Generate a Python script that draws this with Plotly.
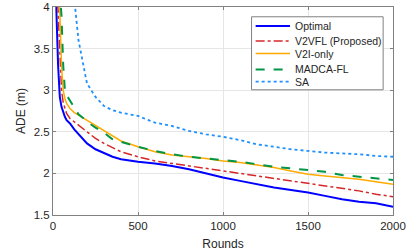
import plotly.graph_objects as go

rounds = [1, 10, 20, 30, 40, 50, 60, 70, 80, 100, 125, 150, 175, 200, 250, 300, 350, 400,
          500, 600, 700, 800, 900, 1000, 1100, 1200, 1300, 1400, 1500, 1600, 1700, 1800, 1900, 2000]

optimal = [6.0, 4.8, 3.95, 3.3, 2.92, 2.80, 2.73, 2.68, 2.64, 2.60, 2.53, 2.47, 2.41, 2.36, 2.29, 2.24, 2.20, 2.17,
           2.14, 2.12, 2.09, 2.05, 2.00, 1.95, 1.91, 1.87, 1.83, 1.80, 1.77, 1.73, 1.69, 1.66, 1.64, 1.60]
v2vfl = [6.2, 5.0, 4.3, 3.95, 3.4, 3.0, 2.85, 2.77, 2.72, 2.66, 2.62, 2.58, 2.54, 2.50, 2.42, 2.36, 2.31, 2.26,
         2.20, 2.15, 2.12, 2.09, 2.06, 2.03, 2.00, 1.97, 1.94, 1.91, 1.88, 1.85, 1.82, 1.79, 1.75, 1.72]
v2i_only = [6.5, 5.3, 4.6, 4.2, 3.95, 3.3, 3.0, 2.9, 2.84, 2.78, 2.73, 2.70, 2.67, 2.64, 2.58, 2.52, 2.45, 2.39,
            2.32, 2.26, 2.22, 2.20, 2.18, 2.15, 2.13, 2.10, 2.07, 2.03, 1.99, 1.97, 1.95, 1.93, 1.90, 1.87]
madca_fl = [6.8, 5.5, 4.8, 4.4, 4.1, 3.9, 3.3, 3.0, 2.94, 2.87, 2.78, 2.71, 2.67, 2.62, 2.55, 2.49, 2.41, 2.38,
            2.32, 2.27, 2.23, 2.20, 2.18, 2.16, 2.14, 2.11, 2.08, 2.06, 2.04, 2.02, 1.98, 1.96, 1.94, 1.92]
sa = [8.0, 7.0, 6.3, 5.8, 5.4, 5.1, 4.9, 4.7, 4.55, 4.35, 4.1, 3.6, 3.32, 3.08, 2.92, 2.81, 2.76, 2.73,
      2.69, 2.61, 2.57, 2.51, 2.47, 2.44, 2.40, 2.35, 2.32, 2.29, 2.27, 2.25, 2.24, 2.23, 2.21, 2.20]

x_ticks = [0, 500, 1000, 1500, 2000]
y_ticks = [1.5, 2, 2.5, 3, 3.5, 4]
y_tick_labels = ["1.5", "2", "2.5", "3", "3.5", "4"]

series_names = ["Optimal", "V2VFL (Proposed)", "V2I-only", "MADCA-FL", "SA"]
series_values = [optimal, v2vfl, v2i_only, madca_fl, sa]
series_colors = ["rgb(0,0,255)", "rgb(214,39,40)", "rgb(255,170,0)", "rgb(0,150,70)", "rgb(30,144,255)"]
series_dash = ["solid", "dashdot", "solid", "dash", "dot"]
series_width = [2, 1.5, 1.5, 2, 1.8]

FONT = "Liberation Sans, Arial"

fig = go.Figure()
for name, vals, color, dash, w in zip(series_names, series_values, series_colors, series_dash, series_width):
    fig.add_trace(go.Scatter(x=rounds, y=vals, mode="lines", name=name, showlegend=False,
                             line=dict(color=color, dash=dash, width=w)))

# compact legend box (MATLAB-like row spacing)
L, R, T, B = 0.584, 0.971, 0.953, 0.602
fig.add_shape(type="rect", xref="paper", yref="paper", x0=L, x1=R, y0=B, y1=T,
              line=dict(color="#808080", width=1), fillcolor="white", layer="above")
row_y = [0.909, 0.837, 0.776, 0.700, 0.641]
for i, (name, color, dash, w) in enumerate(zip(series_names, series_colors, series_dash, series_width)):
    fig.add_shape(type="line", xref="paper", yref="paper", x0=0.596, x1=0.697, y0=row_y[i], y1=row_y[i],
                  line=dict(color=color, dash=dash, width=w), layer="above")
    fig.add_annotation(xref="paper", yref="paper", x=0.706, y=row_y[i], text=name, showarrow=False,
                       xanchor="left", yanchor="middle",
                       font=dict(family=FONT, size=10.5, color="#262626"))

# y-axis title placed like the reference
fig.add_annotation(xref="paper", yref="paper", x=-0.094, y=0.5, text="ADE (m)", showarrow=False,
                   textangle=-90, xanchor="center", yanchor="middle",
                   font=dict(family=FONT, size=12, color="#262626"))

axis_common = dict(showline=True, linecolor="#808080", linewidth=1, mirror="ticks",
                   ticks="inside", ticklen=3, tickcolor="#808080", automargin=False,
                   showgrid=True, gridcolor="#e6e6e6", gridwidth=1, zeroline=False,
                   tickfont=dict(family=FONT, size=11.5, color="#262626"),
                   title_font=dict(family=FONT, size=12, color="#262626"))

fig.update_xaxes(range=[0, 2000], tickvals=x_ticks, title_text="Rounds", **axis_common)
fig.update_yaxes(range=[1.5, 4], tickvals=y_ticks, ticktext=y_tick_labels, **axis_common)

fig.update_layout(
    width=414, height=251,
    margin=dict(l=53, r=21, t=7, b=36),
    plot_bgcolor="white", paper_bgcolor="white",
    font=dict(family=FONT, size=10, color="#262626"),
    showlegend=False,
)

fig.write_html("out.html", config={"displayModeBar": False},
               post_script="document.body.style.margin='0';")
